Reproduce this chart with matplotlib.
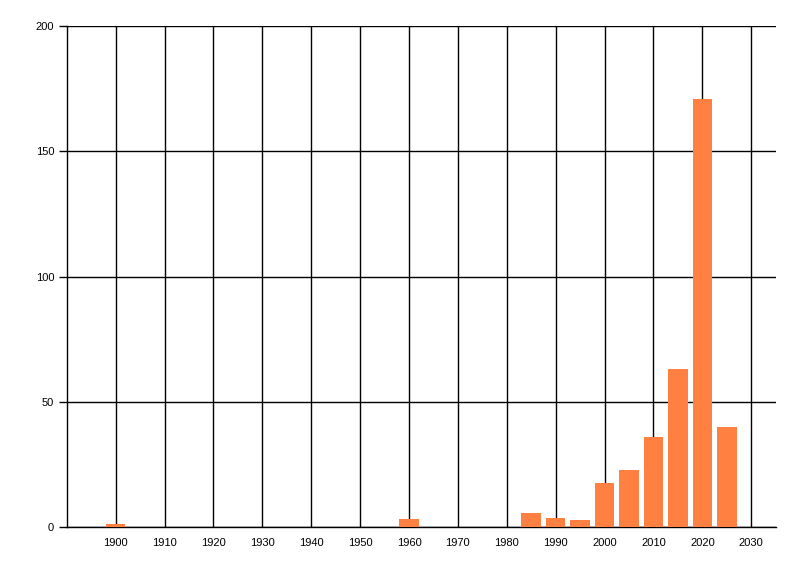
import matplotlib
matplotlib.use("Agg")
import matplotlib.pyplot as plt

# années (centre des barres) et nombre d'éléments
annees = [1900, 1960, 1985, 1990, 1995, 2000, 2005, 2010, 2015, 2020, 2025]
valeurs = [1, 3, 5.6, 3.6, 2.8, 17.6, 22.8, 36, 63, 171, 40]

xticks = list(range(1900, 2031, 10))
yticks = [0, 50, 100, 150, 200]

plt.rcParams['font.family'] = ['Liberation Sans', 'DejaVu Sans']

fig = plt.figure(figsize=(8, 5.76), dpi=100)
ax = fig.add_axes([0.0834, 0.0851, 0.9696 - 0.0834, 0.9543 - 0.0851])

ax.bar(annees, valeurs, width=4, color='#FF8040', zorder=3)

ax.set_xlim(1890, 2035)
ax.set_ylim(0, 200)
ax.set_xticks(xticks)
ax.set_yticks(yticks)
ax.grid(True, color='black', linewidth=1.0, zorder=0)
ax.set_axisbelow(True)

for s in ['top', 'right']:
    ax.spines[s].set_visible(False)
for s in ['left', 'bottom']:
    ax.spines[s].set_color('black')
    ax.spines[s].set_linewidth(1.0)

ax.tick_params(axis='x', length=0, pad=8, labelsize=8)
ax.tick_params(axis='y', length=6, width=1.0, pad=3, labelsize=8)

fig.savefig('out.png', dpi=100)
